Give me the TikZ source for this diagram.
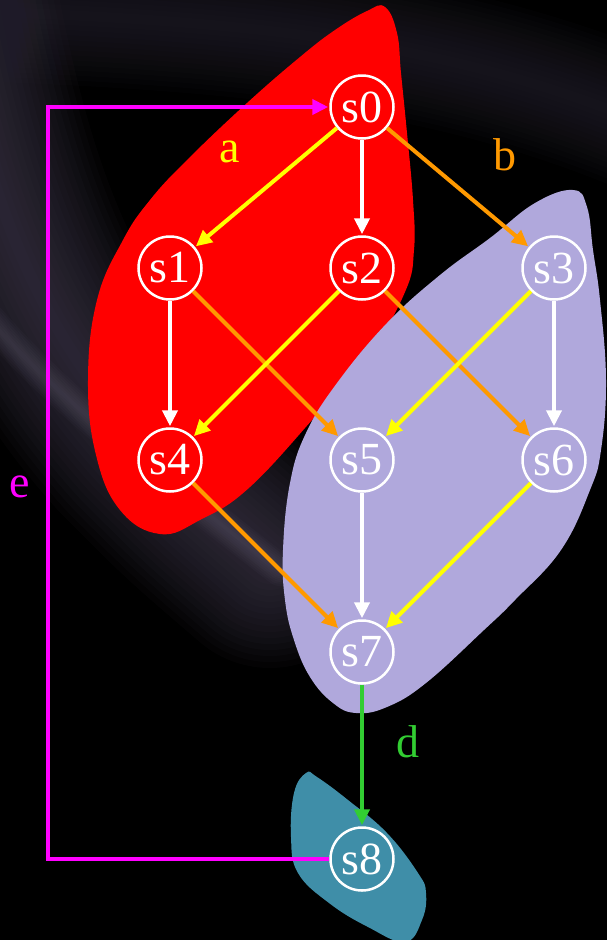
\documentclass[tikz,border=0pt]{standalone}
\usetikzlibrary{arrows.meta}
\usepackage{fontspec}
\setmainfont{Liberation Serif}
\definecolor{bgstreak}{RGB}{70,64,84}
\definecolor{bgtop}{RGB}{46,42,56}
\definecolor{bglight}{RGB}{110,104,124}
\definecolor{blobred}{RGB}{255,0,0}
\definecolor{bloblav}{RGB}{176,168,220}
\definecolor{blobteal}{RGB}{63,142,168}
\definecolor{cyellow}{RGB}{255,255,0}
\definecolor{corange}{RGB}{255,153,0}
\definecolor{cgreen}{RGB}{50,205,50}
\definecolor{cmag}{RGB}{255,0,255}
\tikzset{
  state/.style={circle, draw=white, line width=2.5pt, minimum size=63pt, inner sep=0pt, text=white, font=\fontsize{46}{46}\selectfont},
  lbl/.style={font=\fontsize{46}{46}\selectfont},
  edge/.style={line width=4pt, -{Triangle[length=16pt,width=15pt]}, shorten >=1pt},
}
\begin{document}
\begin{tikzpicture}[x=1pt,y=-1pt]
\useasboundingbox (0,0) rectangle (607,940);
\fill[black] (0,0) rectangle (607,940);
\begin{scope}
\clip (0,0) rectangle (607,940);
% soft background streaks
\foreach \w in {12,24,...,216}
  \draw[line width=\w pt, draw=bgstreak, opacity=0.06, line cap=round, line join=round]
    (-60,-60) .. controls (-20,200) and (40,330) .. (140,440) .. controls (200,500) .. (270,560);
\foreach \w in {10,20,...,140}
  \draw[line width=\w pt, draw=bgtop, opacity=0.06, line cap=round]
    (-60,10) .. controls (250,20) and (450,40) .. (660,130);
\foreach \w in {4,8,...,32}
  \draw[line width=\w pt, draw=bglight, opacity=0.05, line cap=round]
    (-10,320) .. controls (60,400) and (150,470) .. (280,570);
\end{scope}
% blobs
\fill[blobred] plot[smooth cycle, tension=0.7] coordinates {
  (385,7) (397,33) (401,73) (407,133) (413,200) (414,250) (405,292) (368,357)
  (321,410) (250,487) (200,520) (160,534) (120,510) (96,455) (88,380) (97,300)
  (123,240) (150,200) (187,160) (247,103) (300,57) (335,30) (367,11)};
\fill[bloblav] plot[smooth cycle, tension=0.7] coordinates {
  (573,190) (587,207) (593,250) (600,300) (606,380) (601,450) (590,490) (561,550)
  (515,600) (484,630) (426,683) (387,707) (356,713) (333,703) (310,677) (294,640)
  (285,600) (283,550) (290,483) (306,433) (337,383) (387,323) (440,275) (490,238) (535,203)};
\fill[blobteal] plot[smooth cycle, tension=0.7] coordinates {
  (306,773) (317,777) (348,800) (387,833) (418,873) (426,893) (422,920) (405,942)
  (368,927) (329,903) (298,873) (291,837) (294,793)};
% nodes
\node[state] (s0) at (362,107) {s0};
\node[state] (s1) at (170,268) {s1};
\node[state] (s2) at (362,268) {s2};
\node[state] (s3) at (554,268) {s3};
\node[state] (s4) at (170,460) {s4};
\node[state] (s5) at (362,460) {s5};
\node[state] (s6) at (554,460) {s6};
\node[state] (s7) at (362,652) {s7};
\node[state] (s8) at (362,859) {s8};
% edges
\draw[edge, cyellow] (s0) -- (s1);
\draw[edge, white] (s0) -- (s2);
\draw[edge, corange] (s0) -- (s3);
\draw[edge, white] (s1) -- (s4);
\draw[edge, corange] (s1) -- (s5);
\draw[edge, cyellow] (s2) -- (s4);
\draw[edge, corange] (s2) -- (s6);
\draw[edge, cyellow] (s3) -- (s5);
\draw[edge, white] (s3) -- (s6);
\draw[edge, corange] (s4) -- (s7);
\draw[edge, white] (s5) -- (s7);
\draw[edge, cyellow] (s6) -- (s7);
\draw[edge, cgreen] (s7) -- (s8);
\coordinate (cbl) at (48,859);
\coordinate (ctl) at (48,107);
\draw[edge, cmag, line join=miter] (s8.west) -- (cbl) -- (ctl) -- (s0.west);
% labels
\node[lbl, text=cyellow] (la) at (230,152) {a};
\node[lbl, text=corange] (lb) at (505,155) {b};
\node[lbl, text=cgreen] (ld) at (408,742) {d};
\node[lbl, text=cmag] (le) at (20,487) {e};
\end{tikzpicture}
\end{document}
